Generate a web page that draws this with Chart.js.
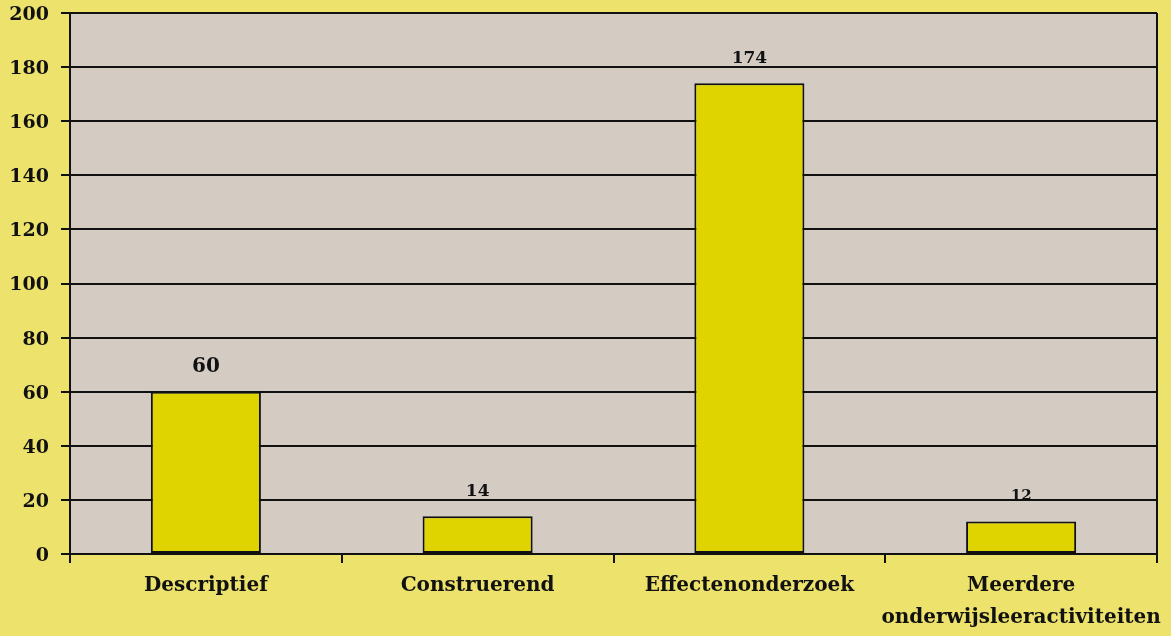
<!DOCTYPE html>
<html><head><meta charset="utf-8">
<script src="https://cdn.jsdelivr.net/npm/chart.js@4/dist/chart.umd.min.js"></script>
<style>html,body{margin:0;padding:0;background:#ECE26C;}#wrap{width:1171px;height:636px;}</style>
</head><body><div id="wrap"><canvas id="c" width="1171" height="636"></canvas></div>
<script>
const categories = ['Descriptief', 'Construerend', 'Effectenonderzoek', ['Meerdere', 'onderwijsleeractiviteiten']];
const values = [60, 14, 174, 12];
const yTicks = [0, 20, 40, 60, 80, 100, 120, 140, 160, 180, 200];
const labelFontSizes = [20, 17, 17, 15];

const bgPlugin = {
  id: 'bg',
  beforeDraw(chart) {
    const {ctx, chartArea: a} = chart;
    ctx.save();
    ctx.fillStyle = '#ECE26C';
    ctx.fillRect(0, 0, chart.width, chart.height);
    ctx.fillStyle = '#D4CCC3';
    ctx.fillRect(a.left, a.top, a.right - a.left, a.bottom - a.top);
    ctx.restore();
  },
  afterDraw(chart) {
    const {ctx, chartArea: a} = chart;
    ctx.save();
    ctx.strokeStyle = '#111';
    ctx.lineWidth = 2;
    ctx.beginPath();
    ctx.moveTo(a.right, a.top);
    ctx.lineTo(a.right, a.bottom + 9);
    ctx.stroke();
    const meta = chart.getDatasetMeta(0);
    ctx.fillStyle = '#111';
    ctx.textAlign = 'center';
    ctx.textBaseline = 'middle';
    meta.data.forEach((el, i) => {
      ctx.font = 'bold ' + labelFontSizes[i] + 'px "DejaVu Serif", serif';
      ctx.fillText(String(values[i]), el.x, el.y - 25);
    });
    ctx.restore();
  }
};

new Chart(document.getElementById('c'), {
  type: 'bar',
  data: {
    labels: categories,
    datasets: [{
      data: values,
      backgroundColor: '#E0D400',
      borderColor: '#111',
      borderWidth: 2,
      borderSkipped: false,
      barPercentage: 0.405,
      categoryPercentage: 1.0
    }]
  },
  options: {
    responsive: false,
    animation: false,
    devicePixelRatio: 1,
    layout: {padding: {top: 13, right: 14, left: 0, bottom: 0}},
    plugins: {legend: {display: false}, tooltip: {enabled: false}},
    scales: {
      x: {
        grid: {drawOnChartArea: false, drawTicks: true, tickLength: 9, color: '#111', lineWidth: 2},
        border: {color: '#111', width: 2},
        ticks: {color: '#111', padding: 7, maxRotation: 0, autoSkip: false,
          font: {family: '"DejaVu Serif", serif', size: 20, weight: 'bold', lineHeight: 1.6}},
        afterFit(s) { s.height = 636 - 554; }
      },
      y: {
        min: 0, max: 200,
        afterBuildTicks(s) { s.ticks = yTicks.map(v => ({value: v})); },
        grid: {color: '#111', lineWidth: 2, tickLength: 9},
        border: {color: '#111', width: 2},
        ticks: {color: '#111', padding: 12, labelOffset: 2,
          font: {family: '"DejaVu Serif", serif', size: 19, weight: 'bold', lineHeight: 0.2}},
        afterFit(s) { s.width = 70; s.paddingTop = 0; s.paddingBottom = 0; }
      }
    }
  },
  plugins: [bgPlugin]
});
</script></body></html>
